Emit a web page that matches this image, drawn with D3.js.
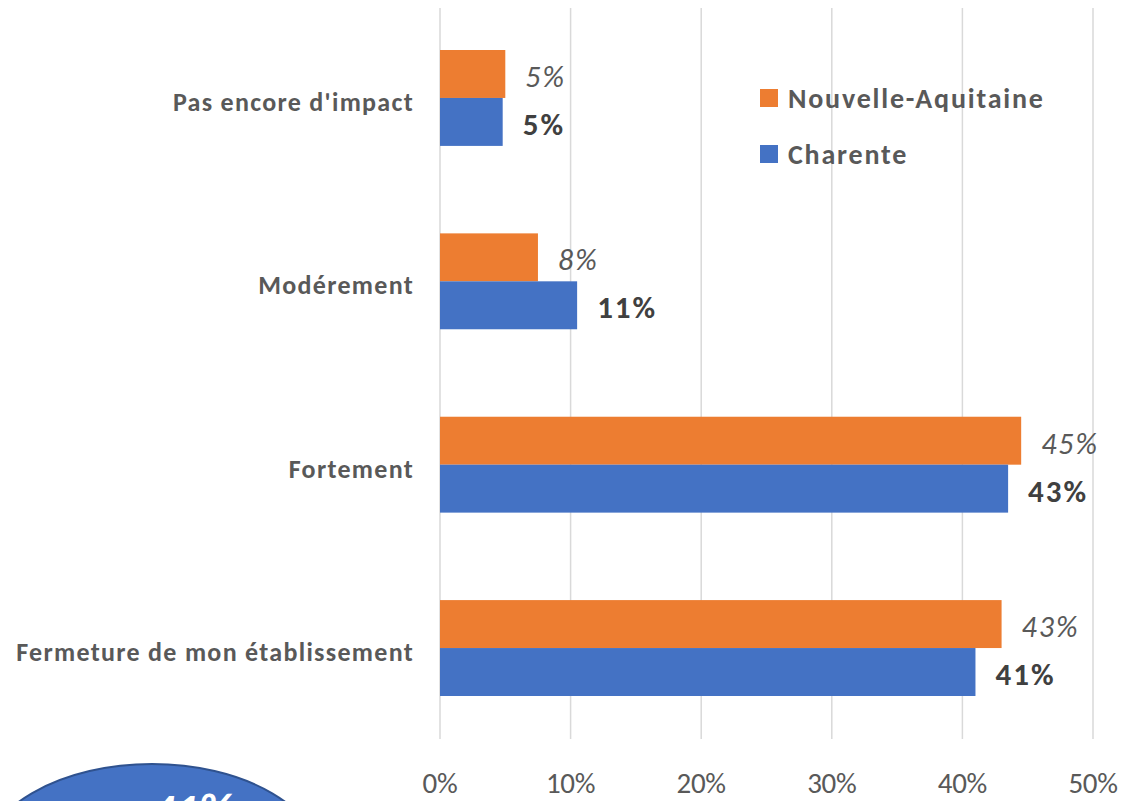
<!DOCTYPE html>
<html>
<head>
<meta charset="utf-8">
<script src="https://cdn.jsdelivr.net/npm/d3@7"></script>
<style>
  body { margin: 0; background: #fff; }
  svg { display: block; font-family: Carlito, Calibri, Lato, "Open Sans", sans-serif; }
</style>
</head>
<body>
<svg width="1125" height="801"></svg>
<script>
// data
var categories = ["Pas encore d'impact", "Modérement", "Fortement", "Fermeture de mon établissement"];
var seriesNames = ["Nouvelle-Aquitaine", "Charente"];
var nouvelleAquitaine = [0.05, 0.075, 0.445, 0.43];
var charente = [0.048, 0.105, 0.435, 0.41];
var nouvelleLabels = ["5%", "8%", "45%", "43%"];
var charenteLabels = ["5%", "11%", "43%", "41%"];
var ticks = [0, 0.1, 0.2, 0.3, 0.4, 0.5];

var colors = { "Nouvelle-Aquitaine": "#ED7D31", "Charente": "#4472C4" };

const svg = d3.select("svg"),
  width = +svg.attr("width"),
  height = +svg.attr("height");

const x = d3.scaleLinear().domain([0, 0.5]).range([440, 1093]);
const y = d3.scaleBand().domain(categories).range([6, 740]).paddingInner(0.477).paddingOuter(0.24);
const sub = d3.scaleBand().domain(seriesNames).range([0, y.bandwidth()]);

// gridlines
svg.append("g")
  .selectAll("line")
  .data(ticks)
  .enter().append("line")
    .attr("x1", d => x(d)).attr("x2", d => x(d))
    .attr("y1", 8).attr("y2", 739)
    .attr("stroke", "#D9D9D9")
    .attr("stroke-width", 1.5);

// tick labels
svg.append("g")
  .selectAll("text")
  .data(ticks)
  .enter().append("text")
    .attr("x", d => x(d))
    .attr("y", 793)
    .attr("text-anchor", "middle")
    .attr("fill", "#595959")
    .style("font-size", "29px")
    .style("letter-spacing", "-0.3px")
    .text(d => d3.format(".0%")(d));

// category labels
svg.append("g")
  .selectAll("text")
  .data(categories)
  .enter().append("text")
    .attr("x", 414)
    .attr("y", d => y(d) + y.bandwidth() / 2 + 13)
    .attr("text-anchor", "end")
    .attr("fill", "#595959")
    .style("font-size", "26px")
    .style("font-weight", "bold")
    .style("letter-spacing", "1.3px")
    .text(d => d);

var rows = categories.map((c, i) => ({
  cat: c,
  vals: [
    { s: "Nouvelle-Aquitaine", v: nouvelleAquitaine[i], lab: nouvelleLabels[i] },
    { s: "Charente", v: charente[i], lab: charenteLabels[i] }
  ]
}));

const group = svg.append("g")
  .selectAll("g")
  .data(rows)
  .enter().append("g")
    .attr("transform", d => "translate(0," + y(d.cat) + ")");

group.selectAll("rect")
  .data(d => d.vals)
  .enter().append("rect")
    .attr("x", x(0))
    .attr("y", d => sub(d.s))
    .attr("width", d => x(d.v) - x(0))
    .attr("height", sub.bandwidth())
    .attr("fill", d => colors[d.s]);

group.selectAll("text")
  .data(d => d.vals)
  .enter().append("text")
    .attr("x", d => x(d.v) + 20)
    .attr("y", d => sub(d.s) + sub.bandwidth() / 2 + 13)
    .attr("fill", d => d.s === "Charente" ? "#404040" : "#595959")
    .style("font-size", d => d.s === "Charente" ? "31px" : "30px")
    .style("letter-spacing", "2px")
    .style("font-weight", d => d.s === "Charente" ? "bold" : "normal")
    .style("font-style", d => d.s === "Charente" ? "normal" : "italic")
    .text(d => d.lab);

// legend
const legend = svg.append("g")
  .selectAll("g")
  .data(seriesNames)
  .enter().append("g")
    .attr("transform", (d, i) => "translate(760," + (89 + i * 56) + ")");

legend.append("rect")
  .attr("width", 18).attr("height", 18)
  .attr("fill", d => colors[d]);

legend.append("text")
  .attr("x", 28).attr("y", 19)
  .attr("fill", "#595959")
  .style("font-size", "28px")
  .style("font-weight", "bold")
  .style("letter-spacing", "1.8px")
  .text(d => d);

// callout bubble at bottom left (cut off by the frame, as in the source)
svg.append("ellipse")
  .attr("cx", 152).attr("cy", 864)
  .attr("rx", 170).attr("ry", 100)
  .attr("fill", "#4472C4")
  .attr("stroke", "#2F528F")
  .attr("stroke-width", 2);

svg.append("text")
  .attr("x", 152).attr("y", 826)
  .attr("fill", "#fff")
  .style("font-size", "46px")
  .style("font-weight", "bold")
  .style("font-style", "italic")
  .text("41%");
</script>
</body>
</html>
